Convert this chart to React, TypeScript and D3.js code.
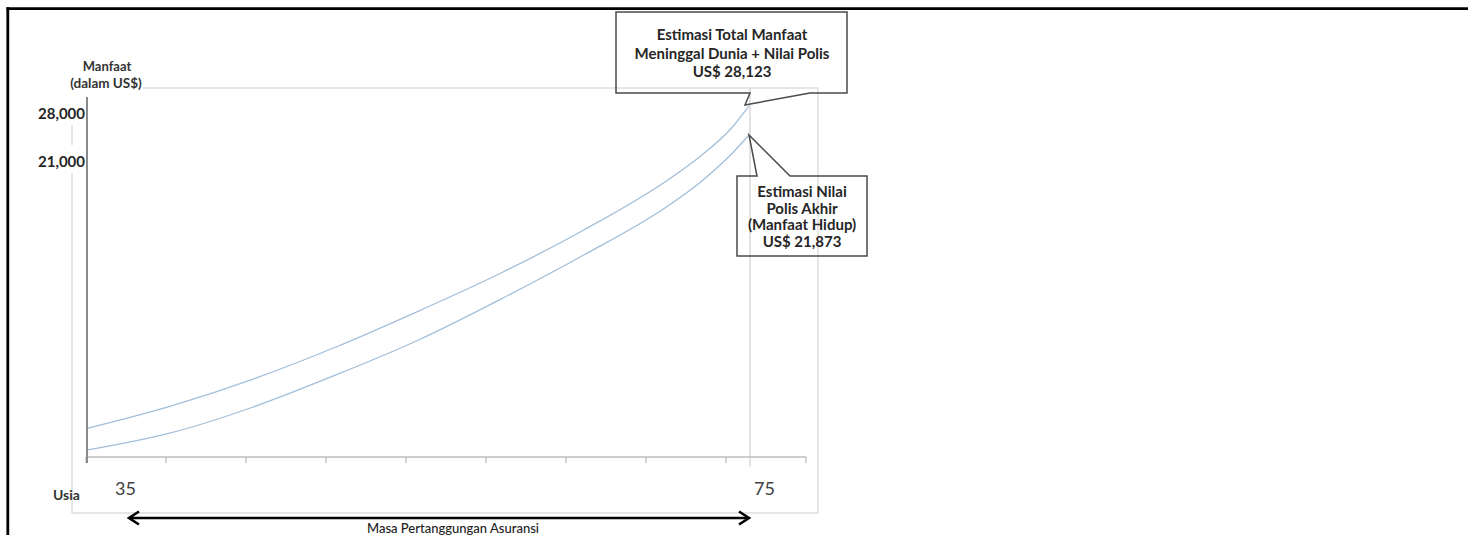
import React from "react";
import * as d3 from "d3";

// ---- data ----
const ages = [35, 40, 45, 50, 55, 60, 65, 70, 72, 74, 75];
// Estimasi Total Manfaat Meninggal Dunia + Nilai Polis (upper curve)
const totalBenefit = [2060, 3630, 5550, 7830, 10390, 13100, 16160, 19650, 21730, 26100, 29170];
// Estimasi Nilai Polis (lower curve)
const policyValue = [500, 1710, 3560, 5840, 8330, 11250, 14380, 17800, 19510, 22310, 24940];

const yTickValues = [28000, 21000];
const yTickLabels = ["28,000", "21,000"];
const xLabelAges = [35, 75];
const xLabelTexts = ["35", "75"];
const binCount = 9;

const yTitle = ["Manfaat", "(dalam US$)"];
const xTitle = "Usia";
const spanLabel = "Masa Pertanggungan Asuransi";
const calloutTop = ["Estimasi Total Manfaat", "Meninggal Dunia + Nilai Polis", "US$ 28,123"];
const calloutBottom = ["Estimasi Nilai", "Polis Akhir", "(Manfaat Hidup)", "US$ 21,873"];

const FONT = "Lato, 'Open Sans', sans-serif";
const TXT = "#262626";

export default function App() {
  const W = 1468;
  const H = 535;

  const x = d3.scaleLinear().domain([35, 75]).range([88, 749]);
  // schematic (piece-wise) value axis, as in the original drawing
  const y = d3.scaleLinear().domain([0, 21000, 28000]).range([457, 162, 114]);
  const bins = d3.scaleLinear().domain([0, binCount]).range([86, 806]);

  const line = d3
    .line<number>()
    .x((_, i) => x(ages[i]))
    .y((d) => y(d))
    .curve(d3.curveMonotoneX);

  const frame = { x0: 72, y0: 88, x1: 818, y1: 513 };
  const axisY = y(0);
  const xEnd = x(75);
  const lastI = ages.length - 1;
  const tipTop = { x: x(ages[lastI]) - 4, y: y(totalBenefit[lastI]) - 1 };
  const tipBot = { x: x(ages[lastI]), y: y(policyValue[lastI]) };

  // callout boxes
  const b1 = { x0: 616, y0: 12, x1: 847, y1: 93, p0: 750, p1: 810 };
  const b2 = { x0: 737, y0: 176, x1: 867, y1: 256, p0: 757, p1: 790 };

  const xLabelDx = [27, 5];

  return (
    <svg
      width={W}
      height={H}
      style={{ position: "absolute", left: 0, top: 0, background: "#fff" }}
      fontFamily={FONT}
    >
      <rect x={0} y={0} width={W} height={H} fill="#fff" />

      {/* light frame */}
      <rect
        x={frame.x0}
        y={frame.y0}
        width={frame.x1 - frame.x0}
        height={frame.y1 - frame.y0}
        fill="none"
        stroke="#d6d6d6"
        strokeWidth={1.2}
      />

      {/* vertical line at age 75 */}
      <line x1={xEnd + 1} x2={xEnd + 1} y1={frame.y0} y2={axisY + 10} stroke="#cfcfcf" strokeWidth={1.2} />

      {/* x axis */}
      <line x1={bins(0)} x2={bins(binCount)} y1={axisY} y2={axisY} stroke="#bdbdbd" strokeWidth={1.6} />
      {d3.range(binCount + 1).map((i) => (
        <line key={i} x1={bins(i)} x2={bins(i)} y1={axisY} y2={axisY + 6} stroke="#bdbdbd" strokeWidth={1.3} />
      ))}

      {/* y axis */}
      <line x1={87} x2={87} y1={93} y2={axisY + 6} stroke="#8a8a8a" strokeWidth={2} />

      {/* curves */}
      <path d={line(totalBenefit) || ""} fill="none" stroke="#a3bfd9" strokeWidth={1.3} />
      <path d={line(policyValue) || ""} fill="none" stroke="#a3bfd9" strokeWidth={1.3} />

      {/* y title with white background */}
      <rect x={66} y={74} width={77} height={23} fill="#fff" />
      <text x={107} y={71} textAnchor="middle" fontSize={13} fontWeight={700} fill="#333">
        {yTitle[0]}
      </text>
      <text x={106} y={88} textAnchor="middle" fontSize={13.5} fontWeight={700} fill="#333">
        {yTitle[1]}
      </text>

      {/* y tick labels */}
      {yTickValues.map((v, i) => (
        <g key={v}>
          <rect x={36} y={y(v) - 17} width={49} height={28} fill="#fff" />
          <text x={85} y={y(v) + 5} textAnchor="end" fontSize={15} fontWeight={700} fill={TXT}>
            {yTickLabels[i]}
          </text>
        </g>
      ))}

      {/* x labels */}
      {xLabelAges.map((a, i) => (
        <text key={a} x={x(a) + xLabelDx[i]} y={495} fontSize={18} fill="#404040">
          {xLabelTexts[i]}
        </text>
      ))}
      <text x={53} y={500} fontSize={14} fontWeight={700} fill="#333">
        {xTitle}
      </text>

      {/* span arrow */}
      <line x1={130} x2={748} y1={518} y2={518} stroke="#000" strokeWidth={2.6} />
      <path d="M139,511.5 L129,518 L139,524.5" fill="none" stroke="#000" strokeWidth={2.6} />
      <path d="M739,511.5 L749,518 L739,524.5" fill="none" stroke="#000" strokeWidth={2.6} />
      <text x={453} y={533} textAnchor="middle" fontSize={13} fill="#222" fontWeight={500}>
        {spanLabel}
      </text>

      {/* top callout */}
      <path
        d={`M${b1.x0},${b1.y0} L${b1.x1},${b1.y0} L${b1.x1},${b1.y1} L${b1.p1},${b1.y1} L${tipTop.x},${tipTop.y} L${b1.p0},${b1.y1} L${b1.x0},${b1.y1} Z`}
        fill="none"
        stroke="#4a4a4a"
        strokeWidth={1.5}
      />
      {calloutTop.map((t, i) => (
        <text key={i} x={732} y={40 + i * 18.5} textAnchor="middle" fontSize={15} fontWeight={700} fill={TXT}>
          {t}
        </text>
      ))}

      {/* bottom callout */}
      <path
        d={`M${b2.x0},${b2.y0} L${b2.p0},${b2.y0} L${tipBot.x},${tipBot.y} L${b2.p1},${b2.y0} L${b2.x1},${b2.y0} L${b2.x1},${b2.y1} L${b2.x0},${b2.y1} Z`}
        fill="none"
        stroke="#4a4a4a"
        strokeWidth={1.5}
      />
      {calloutBottom.map((t, i) => (
        <text key={i} x={802} y={197 + i * 16.5} textAnchor="middle" fontSize={15} fontWeight={700} fill={TXT}>
          {t}
        </text>
      ))}

      {/* outer border */}
      <line x1={6.5} x2={W} y1={8.7} y2={8.7} stroke="#000" strokeWidth={2.8} />
      <line x1={7.8} x2={7.8} y1={7.3} y2={H} stroke="#000" strokeWidth={2.8} />
    </svg>
  );
}
